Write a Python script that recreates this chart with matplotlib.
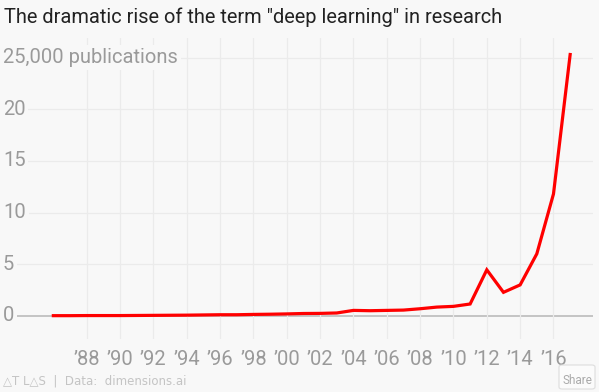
import matplotlib
matplotlib.use("Agg")
import matplotlib.pyplot as plt
from matplotlib.patches import FancyBboxPatch

# ── Data (thousands of publications per year) ────────────────────────────────
years = list(range(1986, 2018))
pubs = [0.01, 0.01, 0.02, 0.02, 0.02, 0.03, 0.04, 0.05, 0.06, 0.08,
        0.10, 0.10, 0.13, 0.15, 0.18, 0.22, 0.23, 0.27, 0.52, 0.49,
        0.52, 0.55, 0.68, 0.84, 0.91, 1.14, 4.45, 2.27, 2.99, 6.0,
        11.8, 25.3]

x_ticks = list(range(1988, 2017, 2))
x_labels = ["\u2019" + str(y)[2:] for y in x_ticks]
y_ticks = [0, 5, 10, 15, 20, 25]
y_labels = ["0", "5", "10", "15", "20", "25,000 publications"]

bg = "#f8f8f8"
grey = "#9a9a9a"
font = ["Roboto", "DejaVu Sans"]

plt.rcParams["font.family"] = font

fig = plt.figure(figsize=(5.99, 3.92), dpi=100)
fig.patch.set_facecolor(bg)
ax = fig.add_axes([17 / 599, 53 / 392, 576 / 599, 301 / 392])
ax.set_facecolor(bg)

ax.set_xlim(1983.82, 2018.37)
ax.set_ylim(-2.25, 26.9)

# grid
for yv in y_ticks:
    ax.axhline(yv, color="#bbbbbb" if yv == 0 else "#ebebeb",
               linewidth=1.2 if yv == 0 else 0.9, zorder=1)
for xv in x_ticks:
    ax.axvline(xv, color="#ebebeb", linewidth=0.9, zorder=1)

ax.plot(years, pubs, color="#ff0000", linewidth=2.3, zorder=3,
        solid_joinstyle="miter")

ax.set_xticks([])
ax.set_yticks([])
for s in ax.spines.values():
    s.set_visible(False)

# y labels
ytr = ax.get_yaxis_transform()
for yv, lab in zip(y_ticks, y_labels):
    ax.text(-14 / 576, yv, lab, transform=ytr, ha="left", va="center",
            fontsize=14.5, color=grey, clip_on=False, zorder=4,
            bbox=dict(facecolor=bg, edgecolor="none", pad=2))

# x labels
xtr = ax.get_xaxis_transform()
for xv, lab in zip(x_ticks, x_labels):
    ax.text(xv, -0.035, lab, transform=xtr, ha="center", va="top",
            fontsize=14.5, color=grey, clip_on=False)

# title
fig.text(4 / 599, 1 - 17 / 392, 'The dramatic rise of the term "deep learning" in research',
         ha="left", va="center", fontsize=14.4, color="#222222")

# footer
fig.text(3 / 599, 1 - 381 / 392, "\u25b3T L\u25b3S  |  Data:  dimensions.ai",
         ha="left", va="center", fontsize=8.5, color="#c4c4c4",
         family=["DejaVu Sans"])
fig.patches.append(FancyBboxPatch((559 / 599, 3 / 392), 36 / 599, 24 / 392,
                                  boxstyle="round,pad=0,rounding_size=0.005",
                                  transform=fig.transFigure, facecolor="#fbfbfb",
                                  edgecolor="#dddddd", linewidth=0.8))
fig.text(577 / 599, 1 - 380 / 392, "Share", ha="center", va="center",
         fontsize=8.5, color="#aaaaaa")

fig.savefig("out.png", dpi=100, facecolor=bg)
